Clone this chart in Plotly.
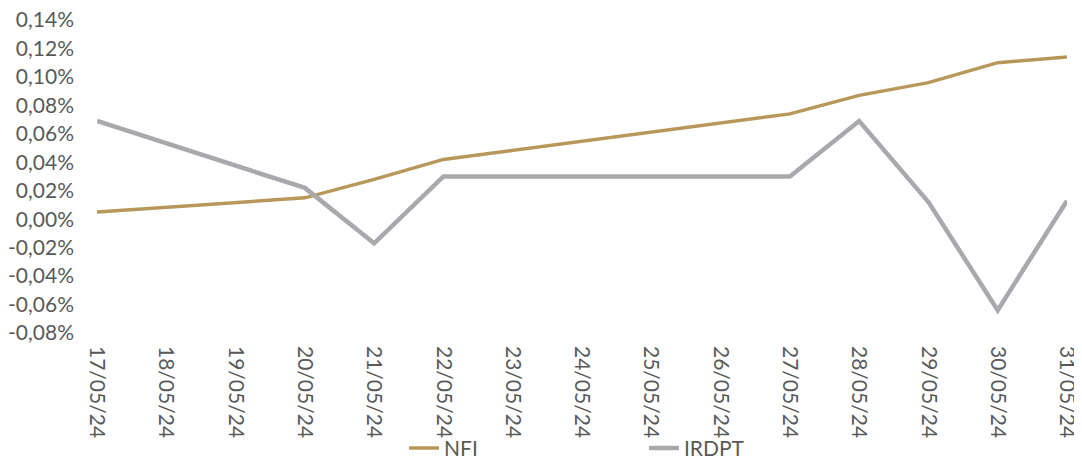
import plotly.graph_objects as go

dates = ["2024-05-17", "2024-05-20", "2024-05-21", "2024-05-22", "2024-05-27",
         "2024-05-28", "2024-05-29", "2024-05-30", "2024-05-31"]
nfi = [0.005, 0.015, 0.028, 0.042, 0.074, 0.087, 0.096, 0.110, 0.114]
irdpt = [0.069, 0.022, -0.017, 0.030, 0.030, 0.069, 0.012, -0.064, 0.013]

tick_dates = ["2024-05-%02d" % d for d in range(17, 32)]
tick_text = ["%02d/05/24" % d for d in range(17, 32)]
y_vals = [-0.08, -0.06, -0.04, -0.02, 0.0, 0.02, 0.04, 0.06, 0.08, 0.10, 0.12, 0.14]
y_text = [("-" if v < 0 else "") + ("%.2f" % abs(v)).replace(".", ",") + "%" for v in y_vals]

font_family = "Lato, 'Open Sans', sans-serif"
txt = "#595959"

fig = go.Figure()
fig.add_trace(go.Scatter(x=dates, y=nfi, name="NFI", mode="lines",
                         line=dict(color="#B8985A", width=3.5)))
fig.add_trace(go.Scatter(x=dates, y=irdpt, name="IRDPT", mode="lines",
                         line=dict(color="#A7A9AC", width=4.5)))

fig.update_layout(
    width=1074, height=461,
    margin=dict(l=89, r=15, t=12, b=136),
    paper_bgcolor="white", plot_bgcolor="white",
    font=dict(family=font_family, size=21, color=txt),
    showlegend=True,
    legend=dict(orientation="h", xref="container", yref="container",
                x=0.3687, y=0.045, xanchor="left", yanchor="middle",
                entrywidth=195, entrywidthmode="pixels",
                bgcolor="rgba(0,0,0,0)",
                font=dict(size=21, color=txt)),
    xaxis=dict(type="date", range=["2024-05-17", "2024-05-31"],
               tickmode="array", tickvals=tick_dates, ticktext=tick_text,
               tickangle=90, showgrid=False, zeroline=False, showline=False,
               ticks="", ticklabelstandoff=12, automargin=False,
               ticklabeloverflow="allow", tickfont=dict(size=21)),
    yaxis=dict(range=[-0.08, 0.14], tickmode="array", tickvals=y_vals, ticktext=y_text,
               showgrid=False, zeroline=False, showline=False, ticks="",
               ticklabelstandoff=22, automargin=False, ticklabeloverflow="allow"),
)

fig.write_html("out.html")
